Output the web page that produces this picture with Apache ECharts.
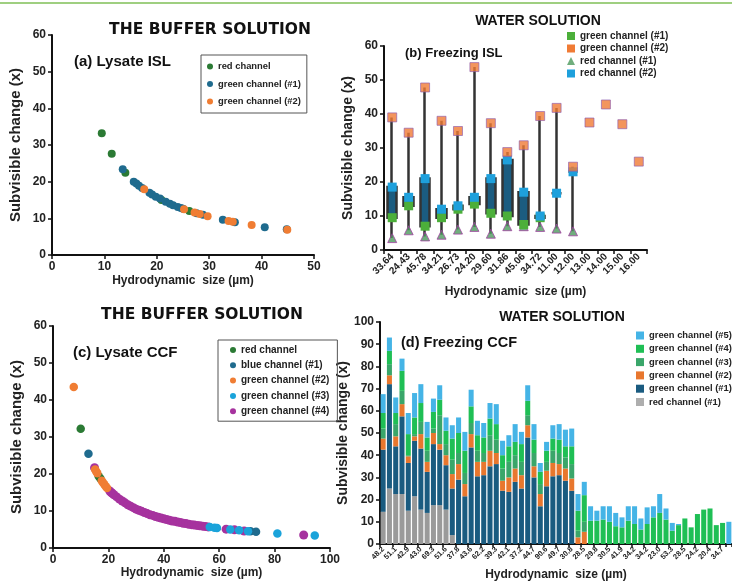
<!DOCTYPE html>
<html><head><meta charset="utf-8">
<script src="https://cdn.jsdelivr.net/npm/echarts@6/dist/echarts.min.js"></script>
<style>html,body{margin:0;padding:0;background:#fff}#c{width:732px;height:583px}</style>
</head><body><div id="c"></div>
<script>
// ---------- Panel (a): Lysate ISL (buffer) ----------
const aRed = [[9.5,33.2],[11.4,27.6],[14.0,22.4],[20.9,15.0],[26.2,12.0]];
const aGreen1 = [[13.5,23.4],[15.6,20.0],[16.1,19.5],[16.6,18.9],[17.2,18.3],[18.6,17.0],[19.1,16.5],[19.8,15.9],[20.6,15.4],[21.7,14.5],[22.5,14.0],[23.1,13.6],[24.0,13.1],[24.6,12.8],[25.0,12.6],[27.6,11.4],[28.8,11.0],[32.6,9.6],[34.9,8.9],[40.6,7.6],[44.8,7.0]];
const aGreen2 = [[17.6,17.9],[25.2,12.5],[27.2,11.6],[28.2,11.2],[29.7,10.6],[33.7,9.3],[34.5,9.1],[38.1,8.2],[44.9,6.9]];

// ---------- Panel (b): Freezing ISL (water) ----------
const bCats = ['33.64','24.43','45.78','34.21','26.73','24.20','29.60','31.86','45.06','34.72','11.00','12.00','13.00','14.00','15.00','16.00'];
const bGreen1 = [9.5,13.0,7.0,9.5,12.0,13.5,10.8,10.0,7.5,9.5,null,null,null,null,null,null];
const bGreen2 = [39.0,34.5,47.8,38.0,35.0,53.8,37.3,28.8,30.8,39.4,41.8,24.5,37.5,42.8,37.0,26.0];
const bRed1 = [3.5,5.8,4.0,4.5,6.0,6.8,4.8,7.0,7.0,6.8,6.3,5.5,null,null,null,null];
const bRed2 = [18.5,15.5,21.0,12.0,13.0,15.5,21.0,26.5,17.0,10.0,16.7,23.0,null,null,null,null];

// ---------- Panel (c): Lysate CCF (buffer) ----------
const cRed = [[10.0,32.2],[16.5,19.4],[17.1,18.8]];
const cBlue1 = [[12.8,25.5],[71.3,4.5],[73.3,4.4]];
const cGreen2 = [[7.5,43.5],[15.2,21.2],[15.6,20.7],[16.0,20.2],[17.6,18.2],[18.0,17.7],[18.5,17.2],[19.0,16.7],[19.5,16.2]];
const cGreen3 = [[56.6,5.7],[58.3,5.5],[59.2,5.4],[64.0,5.0],[67.2,4.8],[70.4,4.5],[81.0,3.9],[94.5,3.4]];
const cGreen4 = [[15.0,21.7],[20.5,15.4],[21.0,15.0],[21.5,14.7],[22.0,14.4],[23.0,13.8],[24.0,13.2],[25.0,12.7],[26.0,12.2],[27.0,11.7],[28.0,11.3],[29.0,10.9],[30.0,10.5],[31.0,10.2],[32.0,9.9],[33.0,9.6],[34.0,9.3],[35.0,9.0],[36.0,8.8],[37.0,8.5],[38.0,8.3],[39.0,8.1],[40.0,7.9],[41.0,7.7],[42.0,7.5],[43.0,7.3],[44.0,7.2],[45.0,7.0],[46.0,6.9],[47.0,6.7],[48.0,6.6],[49.0,6.4],[50.0,6.3],[51.0,6.2],[52.0,6.1],[53.0,6.0],[54.0,5.9],[55.0,5.8],[56.0,5.7],[62.5,5.1],[65.5,4.9],[69.0,4.6],[90.5,3.5]];

// ---------- Panel (d): Freezing CCF (water), stacked segments ----------
const dTickLabels = ['48.2','51.1','42.9','43.0','69.3','51.6','37.8','43.6','62.2','39.3','42.1','37.2','44.7','90.6','49.7','30.8','28.5','29.8','30.5','41.9','34.2','34.2','23.0','53.3','28.5','24.2','20.4','34.7'];
const dRed1   = [14.5,25,22.5,22.5,15,21.5,15.5,14,17.5,17.5,15.5,4, 0,0,0,0,0,0,0,0,0,0,0,0,0,0,0,0,0,0,0,0,0, 0,0,0,0,0,0,0,0,0,0,0,0,0,0,0,0,0,0,0,0,0,0];
const dGreen1 = [28,47,21.5,35,21.5,25,27.5,18.5,27.5,25,20,21, 29,21.5,43.5,30.5,31,35,36,24,23.5,28,25,48,30,17,26,30.5,31,28.5,24,0,0, 0,0,0,0,0,0,0,0,0,0,0,0,0,0,0,0,0,0,0,0,0,0];
const dGreen2 = [5,4,4.5,5.5,3,2,6.5,4.5,5,2.5,4.5,6.5, 7,5.5,6,6.5,6,7,5,4.5,6.5,6,6,5.5,5,5.5,7,6,5,5.5,5.5,3,5.5, 0,0,0,0,0,0,0,0,0,0,0,0,0,0,0,0,0,0,0,0,0,0];
const dGreen3 = [4.5,5,5.5,6,0.5,1,5.5,5,2,13,5,6.5, 5,5,5,5,4,7,6,5.5,7,6,6,4.5,6,4.5,4,5.5,5,5,6.5,3,4.5, 0,0,0,0,0,0,0,0,0,0,0,0,0,0,0,0,0,0,0,0,0,0];
const dGreen4 = [7,6,5,9,9.5,7.5,8.5,6,7.5,7,6,9.5, 9,10,7.5,7,7,7.5,7,6,7,6,8,6.5,6,5.5,5,5.5,6,5,8,9,12, 10.5,10.5,11,10,8,7.5,10.5,9,6.5,9,12,14,11,6,8.5,11.5,7.5,13.5,15.5,16,8.5,9.5,0];
const dGreen5 = [8.5,6,7,5.5,9.5,11,8.5,7,6,6.5,6,6, 7,8.5,7.5,6.5,6.5,7,9,6.5,5,8,5.5,7,7,4,4,6,7,7.5,8,7.5,6, 6.5,4.5,6,7,6,4.5,6.5,8,5,7.5,5,8.5,5,3.5,0.5,0,0,0,0,0,0,0,10];

const F = '"Liberation Sans", Arial, sans-serif';
const chart = echarts.init(document.getElementById('c'), null, {renderer:'canvas'});

function axisStyle(o){
  return Object.assign({
    nameLocation:'middle',
    nameTextStyle:{fontFamily:F,fontWeight:'bold',color:'#222'},
    axisLine:{show:true,onZero:false,lineStyle:{color:'#111',width:2}},
    axisTick:{show:true,length:4,lineStyle:{color:'#111',width:1.5}},
    axisLabel:{fontFamily:F,fontWeight:'bold',fontSize:12,color:'#222',margin:6},
    splitLine:{show:false}
  }, o);
}
function nts(size){return {fontFamily:F,fontWeight:'bold',fontSize:size,color:'#222'};}

const dCats = dGreen4.map((v,i)=>String(i));

function sc(name, data, xi, color, size, extra){
  return Object.assign({type:'scatter', name, data, xAxisIndex:xi, yAxisIndex:xi, symbol:'circle', symbolSize:size,
    itemStyle:{color, opacity:1}}, extra||{});
}

const candle = bRed2.map((c,i)=> (c==null) ? '-' : [bGreen1[i]!=null?bGreen1[i]:c, c, bRed1[i], bGreen2[i]]);

const legText = {fontFamily:F,fontWeight:'bold',fontSize:10,color:'#222'};
const legTextS = {fontFamily:F,fontWeight:'bold',fontSize:9.4,color:'#222'};
function li(name, icon, color){return {name, icon, itemStyle:{color, borderWidth:0}};}

const option = {
  animation:false,
  backgroundColor:'#fff',
  graphic:[
    {type:'line', shape:{x1:0,y1:3,x2:732,y2:3}, style:{stroke:'#9fcf80',lineWidth:2}},
    {type:'text', x:210, y:30, style:{text:'THE BUFFER SOLUTION', font:'bold 15.5px "DejaVu Sans"', fill:'#111', textAlign:'center', textVerticalAlign:'middle'}},
    {type:'text', x:538, y:21, style:{text:'WATER SOLUTION', font:'bold 14px "Liberation Sans"', fill:'#111', textAlign:'center', textVerticalAlign:'middle'}},
    {type:'text', x:202, y:315, style:{text:'THE BUFFER SOLUTION', font:'bold 15.5px "DejaVu Sans"', fill:'#111', textAlign:'center', textVerticalAlign:'middle'}},
    {type:'text', x:562, y:317, style:{text:'WATER SOLUTION', font:'bold 14px "Liberation Sans"', fill:'#111', textAlign:'center', textVerticalAlign:'middle'}},
    {type:'text', x:74, y:62, style:{text:'(a) Lysate ISL', font:'bold 15px "Liberation Sans"', fill:'#111', textVerticalAlign:'middle'}},
    {type:'text', x:405, y:53, style:{text:'(b) Freezing ISL', font:'bold 13px "Liberation Sans"', fill:'#111', textVerticalAlign:'middle'}},
    {type:'text', x:73, y:353, style:{text:'(c) Lysate CCF', font:'bold 15px "Liberation Sans"', fill:'#111', textVerticalAlign:'middle'}},
    {type:'text', x:401, y:343, style:{text:'(d) Freezing CCF', font:'bold 14.5px "Liberation Sans"', fill:'#111', textVerticalAlign:'middle'}}
  ],
  grid:[
    {left:52, top:35, width:262, height:220},
    {left:384, top:46, width:263, height:204},
    {left:53, top:326, width:277, height:222},
    {left:380, top:322, width:356, height:222}
  ],
  xAxis:[
    axisStyle({gridIndex:0, type:'value', min:0, max:50, interval:10, name:'Hydrodynamic  size (µm)', nameGap:20, nameTextStyle:nts(12)}),
    axisStyle({gridIndex:1, type:'category', data:bCats, name:'Hydrodynamic  size (µm)', nameGap:36, nameTextStyle:nts(12),
      axisLabel:{fontFamily:F,fontWeight:'bold',fontSize:10,color:'#222',rotate:45,interval:0,margin:5}}),
    axisStyle({gridIndex:2, type:'value', min:0, max:100, interval:20, name:'Hydrodynamic  size (µm)', nameGap:18, nameTextStyle:nts(12)}),
    axisStyle({gridIndex:3, type:'category', data:dCats, name:'Hydrodynamic  size (µm)', nameGap:25, nameTextStyle:nts(12),
      axisTick:{show:true,length:3,interval:1,lineStyle:{color:'#111',width:1.5}},
      axisLabel:{fontFamily:F,fontWeight:'bold',fontSize:7.5,color:'#222',rotate:45,interval:0,margin:4,
        formatter:(v,i)=> (i%2===0 ? dTickLabels[i/2] : '')}})
  ],
  yAxis:[
    axisStyle({gridIndex:0, type:'value', min:0, max:60, interval:10, name:'Subvisible change (x)', nameGap:29, nameTextStyle:nts(15)}),
    axisStyle({gridIndex:1, type:'value', min:0, max:60, interval:10, name:'Subvisible change (x)', nameGap:29, nameTextStyle:nts(14)}),
    axisStyle({gridIndex:2, type:'value', min:0, max:60, interval:10, name:'Subvisible change (x)', nameGap:29, nameTextStyle:nts(15)}),
    axisStyle({gridIndex:3, type:'value', min:0, max:100, interval:10, name:'Subvisible change (x)', nameGap:30, nameTextStyle:nts(14)})
  ],
  legend:[
    {left:201, top:55, orient:'vertical', padding:[7,6,7,6], itemGap:8.5, itemWidth:6, itemHeight:6, borderColor:'#555', borderWidth:1, textStyle:legTextS,
     data:[li('red channel','circle','#2b7a34'), li('green channel (#1)','circle','#1f6b8e'), li('green channel (#2)','circle','#f07d33')]},
    {left:567, top:31, orient:'vertical', padding:0, itemGap:2.5, itemWidth:8, itemHeight:8, textStyle:legText,
     data:[li('green channel (#1)','rect','#4caf3a'), li('green channel (#2)','rect','#f07b35'),
           li('red channel (#1)','triangle','#4c9a5c'), li('red channel (#2)','rect','#1ea0dc')]},
    {left:218, top:340, orient:'vertical', padding:[5,8,5,12], itemGap:5.3, itemWidth:6, itemHeight:6, borderColor:'#555', borderWidth:1, textStyle:legText,
     data:[li('red channel','circle','#2b7a34'), li('blue channel (#1)','circle','#1f6b8e'), li('green channel (#2)','circle','#f07d33'),
           li('green channel (#3)','circle','#1aa3da'), li('green channel (#4)','circle','#a6329e')]},
    {left:636, top:331, orient:'vertical', padding:0, itemGap:4.3, itemWidth:8, itemHeight:8, textStyle:legTextS,
     data:[li('green channel (#5)','rect','#45b4e6'), li('green channel (#4)','rect','#1fbf55'), li('green channel (#3)','rect','#3aa66a'),
           li('green channel (#2)','rect','#e8772e'), li('green channel (#1)','rect','#1a5b80'), li('red channel (#1)','rect','#9a9a9a')]}
  ],
  series:[
    // (a)
    sc('red channel', aRed, 0, '#2b7a34', 8),
    sc('green channel (#1)', aGreen1, 0, '#1f6b8e', 8),
    sc('green channel (#2)', aGreen2, 0, '#f07d33', 8),
    // (b)
    {type:'candlestick', name:'range', xAxisIndex:1, yAxisIndex:1, data:candle, barWidth:10,
     itemStyle:{color:'#1b5c80', color0:'#1b5c80', borderColor:'#333', borderColor0:'#333', borderWidth:2.5}},
    sc('red channel (#1)', bRed1.map(v=>v==null?'-':v), 1, '#4c9a5c', 9, {symbol:'triangle', itemStyle:{color:'#4c9a5c', borderColor:'#a040a0', borderWidth:1}}),
    sc('green channel (#1)', bGreen1.map(v=>v==null?'-':v), 1, '#4caf3a', 9, {symbol:'rect'}),
    sc('red channel (#2)', bRed2.map(v=>v==null?'-':v), 1, '#1ea0dc', 9, {symbol:'rect'}),
    sc('green channel (#2)', bGreen2, 1, '#f07b35', 9, {symbol:'rect', itemStyle:{color:'#f07b35', borderColor:'#8a5ab0', borderWidth:0.8}}),
    // (c)
    sc('green channel (#4)', cGreen4, 2, '#a6329e', 9),
    sc('red channel', cRed, 2, '#2b7a34', 8.5),
    sc('blue channel (#1)', cBlue1, 2, '#1f6b8e', 8.5),
    sc('green channel (#2)', cGreen2, 2, '#f07d33', 8.5),
    sc('green channel (#3)', cGreen3, 2, '#1aa3da', 8.5),
    // (d)
    ...[['red channel (#1)',dRed1,'#9a9a9a'],['green channel (#1)',dGreen1,'#1a5b80'],['green channel (#2)',dGreen2,'#e8772e'],
        ['green channel (#3)',dGreen3,'#3aa66a'],['green channel (#4)',dGreen4,'#1fbf55'],['green channel (#5)',dGreen5,'#45b4e6']]
      .map(([n,d,c])=>({type:'bar', name:n, stack:'d', data:d, xAxisIndex:3, yAxisIndex:3, barCategoryGap:'20%', itemStyle:{color:c}}))
  ]
};
chart.setOption(option);
</script></body></html>
